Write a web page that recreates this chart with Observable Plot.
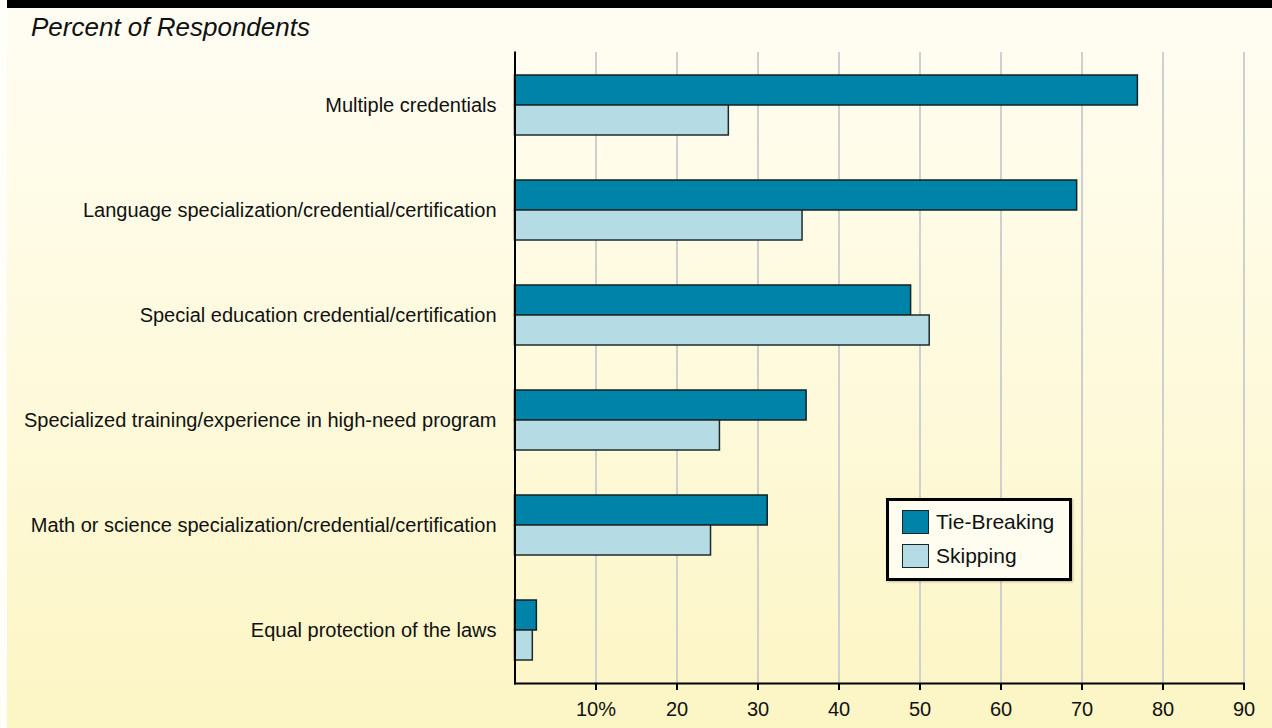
<!DOCTYPE html>
<html>
<head>
<meta charset="utf-8">
<script src="https://cdn.jsdelivr.net/npm/d3@7"></script>
<script src="https://cdn.jsdelivr.net/npm/@observablehq/plot@0.6"></script>
<style>
  html, body { margin: 0; padding: 0; background: #fffef8; width: 1272px; height: 728px; overflow: hidden; }
  #panel { position: absolute; left: 7px; top: 0; width: 1265px; height: 728px;
    background: linear-gradient(to bottom, #fffdf3 0%, #fefadf 45%, #fcf5c4 100%);
    font-family: "Liberation Sans", Arial, Helvetica, sans-serif; overflow: hidden; }
  #topbar { position: absolute; left: 0; top: 0; width: 100%; height: 8px; background: #000; }
  #title { position: absolute; left: 24px; top: 14px; font-size: 26px; line-height: 26px; font-style: italic; color: #111; white-space: nowrap; }
  #chart { position: absolute; left: 0; top: 52px; }
  #legend { position: absolute; left: 879px; top: 498px; width: 186px; height: 83px; box-sizing: border-box;
    border: 3px solid #000; background: #fffdf0; box-shadow: 1px 1px 2px rgba(0,0,0,0.25); }
  .item { position: absolute; left: 13px; height: 24px; display: flex; align-items: center; font-size: 21px; color: #111; white-space: nowrap; }
  .sw { width: 27px; height: 24px; box-sizing: border-box; border: 1.5px solid #1a2626; margin-right: 7px; }
</style>
</head>
<body>
<div id="panel">
  <div id="topbar"></div>
  <div id="title">Percent of Respondents</div>
  <div id="chart"></div>
  <div id="legend"></div>
</div>
<script>
const categories = [
  "Multiple credentials",
  "Language specialization/credential/certification",
  "Special education credential/certification",
  "Specialized training/experience in high-need program",
  "Math or science specialization/credential/certification",
  "Equal protection of the laws"
];
const tieBreaking = [76.9, 69.4, 48.9, 36.0, 31.2, 2.7];
const skipping = [26.4, 35.5, 51.2, 25.3, 24.2, 2.2];
const seriesNames = ["Tie-Breaking", "Skipping"];
const seriesColors = ["#0083a8", "#b5dbe5"];
const xTicks = [10, 20, 30, 40, 50, 60, 70, 80, 90];
const xTickLabels = ["10%", "20", "30", "40", "50", "60", "70", "80", "90"];

const rows = categories.map((c, i) => ({category: c, tie: tieBreaking[i], skip: skipping[i]}));

const chart = Plot.plot({
  width: 1265,
  height: 676,
  marginLeft: 507.5,
  marginRight: 28.5,
  marginTop: 0,
  marginBottom: 45,
  x: {domain: [0, 90], axis: null},
  y: {domain: categories, paddingInner: 0.43, paddingOuter: 0.215, axis: null},
  style: {background: "transparent", fontFamily: "'Liberation Sans', Arial, Helvetica, sans-serif", fontSize: "20px", color: "#111", overflow: "visible"},
  marks: [
    Plot.ruleX(xTicks, {stroke: "#cfcfcf", strokeWidth: 2}),
    Plot.barX(rows, {y: "category", x: "tie", fill: seriesColors[0], stroke: "#132222", strokeWidth: 1.5, insetBottom: 30}),
    Plot.barX(rows, {y: "category", x: "skip", fill: seriesColors[1], stroke: "#1f2b2b", strokeWidth: 1.5, insetTop: 30}),
    Plot.axisY({label: null, tickSize: 0, tickPadding: 18.5, fontSize: 20, fill: "#111"}),
    Plot.axisX({label: null, ticks: xTicks, tickFormat: d => xTickLabels[xTicks.indexOf(d)], tickSize: 7, tickPadding: 11, stroke: "#000", strokeWidth: 2, fontSize: 20, fill: "#111"}),
    Plot.frame({anchor: "left", stroke: "#000", strokeWidth: 2}),
    Plot.frame({anchor: "bottom", stroke: "#000", strokeWidth: 2})
  ]
});
document.getElementById("chart").appendChild(chart);

const legend = document.getElementById("legend");
seriesNames.forEach((name, i) => {
  const item = document.createElement("div");
  item.className = "item";
  item.style.top = (9 + i * 34) + "px";
  const sw = document.createElement("div");
  sw.className = "sw";
  sw.style.background = seriesColors[i];
  const label = document.createElement("span");
  label.textContent = name;
  item.appendChild(sw);
  item.appendChild(label);
  legend.appendChild(item);
});
</script>
</body>
</html>
